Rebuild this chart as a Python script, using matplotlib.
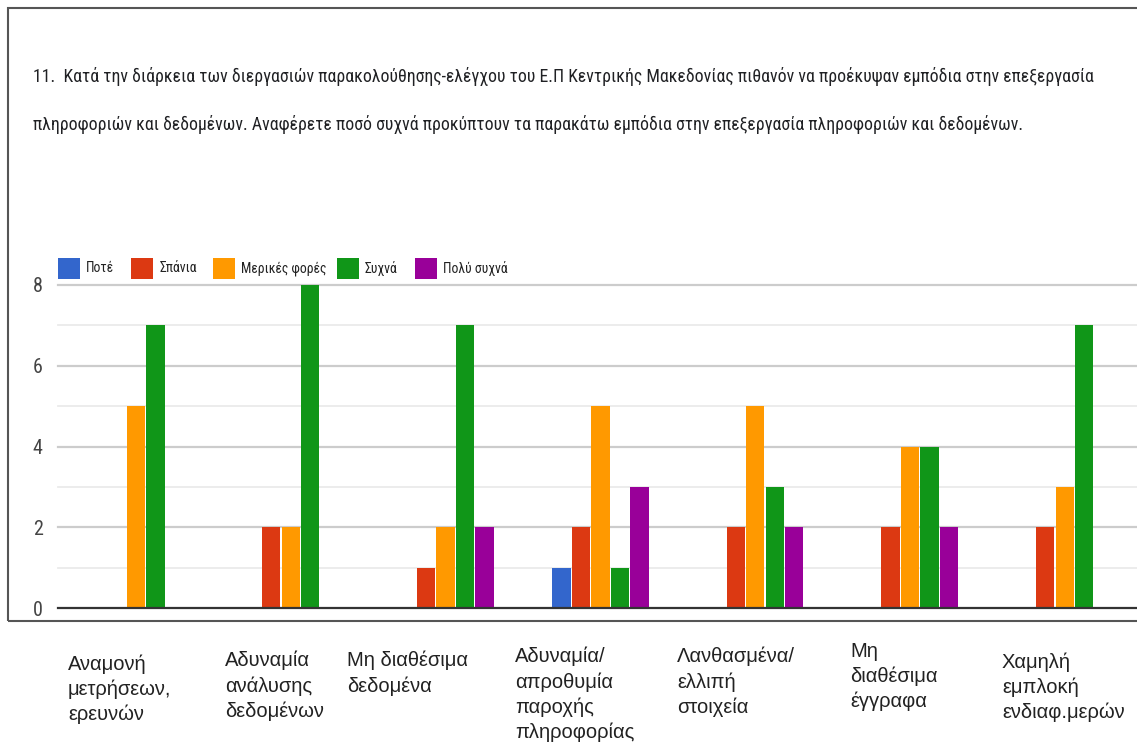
import matplotlib
matplotlib.use("Agg")
import matplotlib.pyplot as plt
from matplotlib.patches import Rectangle
import numpy as np

W, H = 1137, 742
COND = ['Roboto Condensed', 'Fira Sans Condensed', 'Encode Sans Condensed',
        'Open Sans Condensed', 'Roboto', 'DejaVu Sans']
ARIAL = ['Liberation Sans', 'Arimo', 'DejaVu Sans']
plt.rcParams['font.family'] = COND

title_lines = [
    "11.  Κατά την διάρκεια των διεργασιών παρακολούθησης-ελέγχου του Ε.Π Κεντρικής Μακεδονίας πιθανόν να προέκυψαν εμπόδια στην επεξεργασία",
    "πληροφοριών και δεδομένων. Αναφέρετε ποσό συχνά προκύπτουν τα παρακάτω εμπόδια στην επεξεργασία πληροφοριών και δεδομένων.",
]
categories = [
    "Αναμονή\nμετρήσεων,\nερευνών",
    "Αδυναμία\nανάλυσης\nδεδομένων",
    "Μη διαθέσιμα\nδεδομένα",
    "Αδυναμία/\nαπροθυμία\nπαροχής\nπληροφορίας",
    "Λανθασμένα/\nελλιπή\nστοιχεία",
    "Μη\nδιαθέσιμα\nέγγραφα",
    "Χαμηλή\nεμπλοκή\nενδιαφ.μερών",
]
series_names = ["Ποτέ", "Σπάνια", "Μερικές φορές", "Συχνά", "Πολύ συχνά"]
pote = [0, 0, 0, 1, 0, 0, 0]
spania = [0, 2, 1, 2, 2, 2, 2]
merikes = [5, 2, 2, 5, 5, 4, 3]
sychna = [7, 8, 7, 1, 3, 4, 7]
poly_sychna = [0, 0, 2, 3, 2, 2, 0]
series_values = [pote, spania, merikes, sychna, poly_sychna]
colors = ["#3366cc", "#dc3912", "#ff9900", "#109618", "#990099"]
y_ticks = [0, 2, 4, 6, 8]


def fx(px):
    return px / W


def fy(py):
    return 1 - py / H


fig = plt.figure(figsize=(W / 100, H / 100), dpi=100)
fig.patch.set_facecolor("white")
renderer = fig.canvas.get_renderer()


def fit_width(t, target_px, iters=4):
    for _ in range(iters):
        w = t.get_window_extent(renderer).width
        if w <= 0:
            break
        t.set_fontsize(t.get_fontsize() * target_px / w)


# outer border (right edge is cut off by the figure)
fig.patches.append(Rectangle((fx(8), fy(621)), fx(1150) - fx(8), fy(8) - fy(621),
                             transform=fig.transFigure, fill=False,
                             edgecolor="#555555", lw=1.5, clip_on=False))

# title
t1 = fig.text(fx(33), fy(77), title_lines[0], fontsize=13, color="#202124",
              ha="left", va="center")
fit_width(t1, 1060)
t2 = fig.text(fx(33), fy(124), title_lines[1], fontsize=t1.get_fontsize(),
              color="#202124", ha="left", va="center")

ax_left, ax_right, ax_top, ax_bot = 58, 1137, 285, 608
ax = fig.add_axes([fx(ax_left), fy(ax_bot), fx(ax_right) - fx(ax_left), fy(ax_top) - fy(ax_bot)])
ax.set_facecolor("none")

group_px = 154.8
x = np.arange(len(categories))
step = 19.5 / group_px
width = 18.3 / group_px
for i, (vals, c) in enumerate(zip(series_values, colors)):
    ax.bar(x + (i - 2) * step, vals, width=width, color=c, linewidth=0, zorder=3)

ax.set_xlim(-(136 - ax_left) / group_px, (ax_right - 136) / group_px)
ax.set_ylim(0, 8)

for v in range(1, 9):
    if v % 2 == 0:
        ax.axhline(v, color="#cccccc", lw=1.6, zorder=1, clip_on=False)
    else:
        ax.axhline(v, color="#ebebeb", lw=1.3, zorder=1, clip_on=False)
ax.axhline(0, color="#333333", lw=1.6, zorder=4, clip_on=False)

for s in ax.spines.values():
    s.set_visible(False)
ax.set_xticks([])
ax.set_yticks(y_ticks)
ax.set_yticklabels([str(t) for t in y_ticks], fontsize=14.5, color="#444444")
ax.tick_params(axis="y", length=0, pad=11)

# legend (manual layout to match reference)
box_x = [58, 131, 213, 337, 415]
probe = fig.text(0, 0, series_names[2], fontsize=11)
fit_width(probe, 86)
leg_fs = probe.get_fontsize()
probe.remove()
for name, c, bx in zip(series_names, colors, box_x):
    fig.patches.append(Rectangle((fx(bx), fy(279)), fx(22), 21 / H,
                                 transform=fig.transFigure, facecolor=c,
                                 edgecolor="none"))
    fig.text(fx(bx + 28), fy(268.5), name, fontsize=leg_fs, color="#222222",
             ha="left", va="center")

# category labels
label_pos = [(68, 654), (225, 651), (347, 651), (515, 647), (677, 647), (850, 642), (1002, 652)]
for cat, (px, py) in zip(categories, label_pos):
    fig.text(fx(px), fy(py), cat, fontsize=14.5, color="#222222", ha="left",
             va="top", linespacing=1.37, family=ARIAL)

fig.savefig("out.png", dpi=100, facecolor="white")
